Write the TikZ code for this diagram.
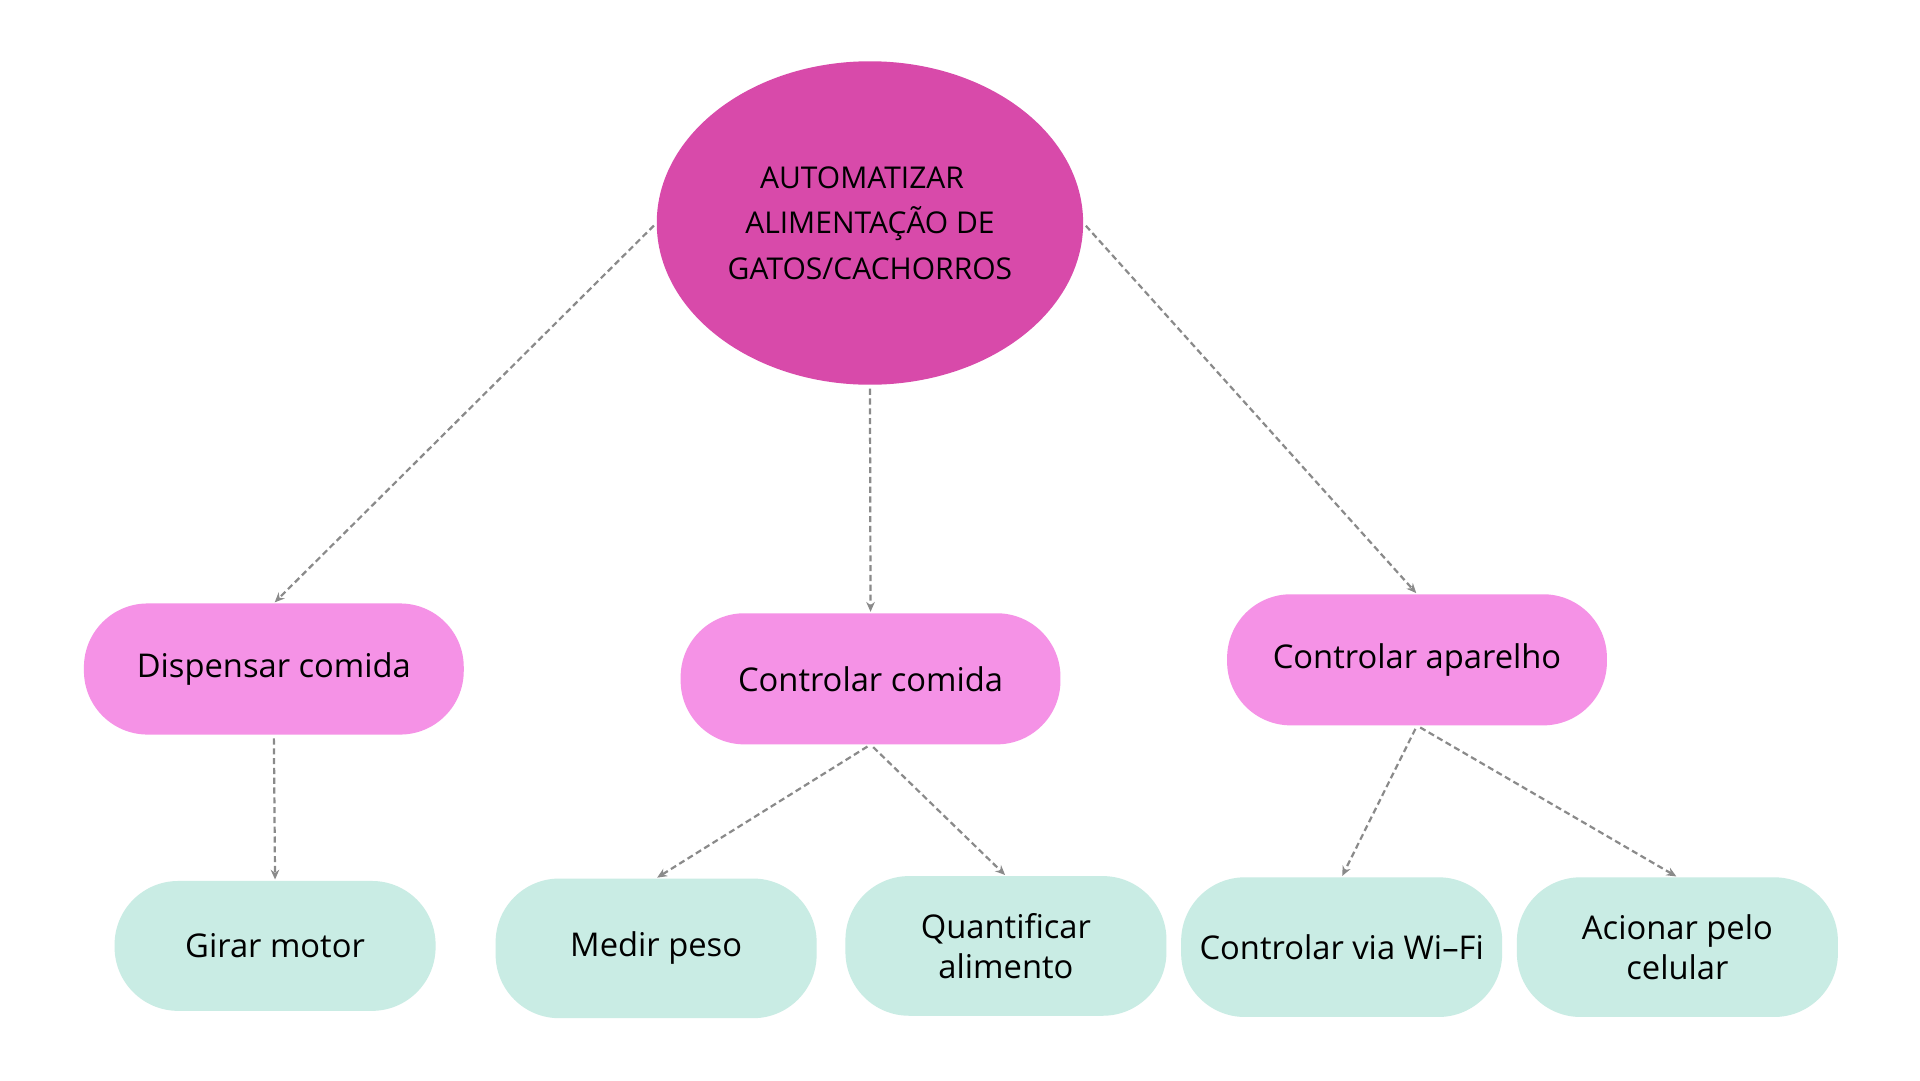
\documentclass[tikz,border=0pt]{standalone}
\usepackage{fontspec}
\setmainfont{Open Sans}
\usetikzlibrary{arrows.meta,shapes.geometric}
\definecolor{rootc}{HTML}{D84AAA}
\definecolor{pinkc}{HTML}{F592E6}
\definecolor{mintc}{HTML}{C9ECE4}
\definecolor{arrc}{HTML}{8A8A8A}
\tikzset{
  rootnode/.style={ellipse,fill=rootc,minimum width=348pt,minimum height=264pt,inner sep=0pt,align=center,font=\fontsize{24.5}{37}\selectfont},
  midbox/.style={rectangle,rounded corners=52pt,fill=pinkc,minimum width=310pt,minimum height=107pt,inner sep=0pt,align=center,font=\fontsize{26.7}{33}\selectfont},
  leafbox/.style={rectangle,rounded corners=52pt,fill=mintc,minimum width=262pt,minimum height=112pt,inner sep=0pt,align=center,font=\fontsize{26.7}{33}\selectfont},
  conn/.style={draw=arrc,line width=1.8pt,dash pattern=on 5pt off 3pt,-{Stealth[length=8pt,width=7pt]},shorten <=3pt,shorten >=1pt}
}
\begin{document}
\begin{tikzpicture}[x=1pt,y=-1pt]
\useasboundingbox (0,0) rectangle (1567,881.5);
\fill[white] (0,0) rectangle (1567,881.5);
\node[rootnode] (root) at (710,182) {AUTOMATIZAR\hspace*{13pt}\\ALIMENTAÇÃO DE\\GATOS/CACHORROS};
\node[midbox] (disp) at (223.5,546) {Dispensar comida};
\node[midbox] (cc) at (710.5,554) {Controlar comida};
\node[midbox] (ca) at (1156.5,538.5) {Controlar aparelho};
\node[leafbox,minimum height=106pt] (girar) at (224.5,772) {Girar motor};
\node[leafbox,minimum height=114pt] (medir) at (535.5,774) {Medir peso};
\node[leafbox,minimum height=114pt] (quant) at (821,772) {Quantificar\\alimento};
\node[leafbox,minimum height=114pt] (wifi) at (1095,773) {Controlar via Wi–Fi};
\node[leafbox,minimum height=114pt] (acion) at (1369,773) {Acionar pelo\\celular};
\draw[conn] (root.west) -- (disp.north);
\draw[conn] (root.south) -- (cc.north);
\draw[conn] (root.east) -- (ca.north);
\draw[conn] (disp.south) -- (girar.north);
\draw[conn] (cc.south) -- (medir.north);
\draw[conn] (cc.south) -- (quant.north);
\draw[conn] (ca.south) -- (wifi.north);
\draw[conn] (ca.south) -- (acion.north);
\end{tikzpicture}
\end{document}
